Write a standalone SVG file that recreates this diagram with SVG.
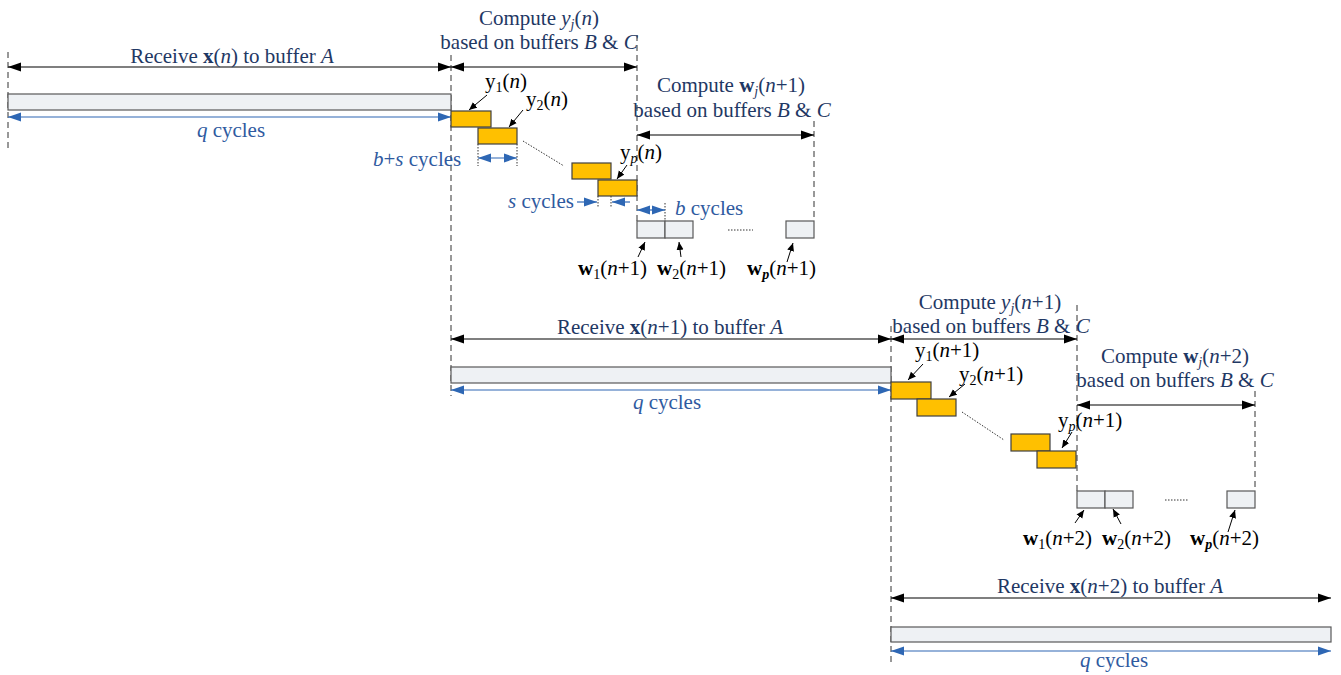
<svg xmlns="http://www.w3.org/2000/svg" width="1341" height="675" viewBox="0 0 1341 675">
<defs>
<marker id="ab" markerUnits="userSpaceOnUse" markerWidth="14" markerHeight="10" refX="13" refY="5" orient="auto-start-reverse"><path d="M0,0.5 L13,5 L0,9.5 Z" fill="#000"/></marker>
<marker id="au" markerUnits="userSpaceOnUse" markerWidth="14" markerHeight="10" refX="13" refY="5" orient="auto-start-reverse"><path d="M0,0.5 L13,5 L0,9.5 Z" fill="#2E67B4"/></marker>
<marker id="as" markerUnits="userSpaceOnUse" markerWidth="9" markerHeight="8" refX="8" refY="4" orient="auto"><path d="M0,0.5 L8,4 L0,7.5 Z" fill="#000"/></marker>
</defs>
<style>
text{font-family:"Liberation Serif","Times New Roman",serif;font-size:21px}
.nv{fill:#1F3864}
.bl{fill:#2F5AA0}
.lb{fill:#000}
.mid{text-anchor:middle}
.bar{fill:#EEF1F4;stroke:#595959;stroke-width:1.2}
.yb{fill:#FFC000;stroke:#404040;stroke-width:1.2}
.wb{fill:#EEF1F4;stroke:#595959;stroke-width:1.2}
.dash{stroke:#333;stroke-width:1;stroke-dasharray:6,4;fill:none}
.dot{stroke:#333;stroke-width:1;stroke-dasharray:1.5,1.5;fill:none}
.ka{stroke:#000;stroke-width:1.2;marker-start:url(#ab);marker-end:url(#ab)}
.ua{stroke:#2E67B4;stroke-width:1.2;marker-start:url(#au);marker-end:url(#au)}
.u1{stroke:#2E67B4;stroke-width:1.2;marker-end:url(#au)}
.sa{stroke:#000;stroke-width:1;marker-end:url(#as)}
</style>

<g id="connectors">
<line class="dash" x1="8" y1="52" x2="8" y2="152"/>
<line class="dash" x1="451" y1="55" x2="451" y2="396"/>
<line class="dash" x1="637" y1="35" x2="637" y2="221"/>
<line class="dash" x1="814" y1="121" x2="814" y2="221"/>
<line class="dash" x1="891" y1="326" x2="891" y2="666"/>
<line class="dash" x1="1077" y1="305" x2="1077" y2="491"/>
<line class="dash" x1="1255" y1="391" x2="1255" y2="491"/>
<line class="dot" x1="478" y1="144" x2="478" y2="166"/>
<line class="dot" x1="517" y1="144" x2="517" y2="166"/>
<line class="dot" x1="598" y1="196" x2="598" y2="208"/>
<line class="dot" x1="611" y1="196" x2="611" y2="208"/>
<line class="dot" x1="665" y1="203" x2="665" y2="221"/>
<line class="dot" x1="523" y1="141" x2="564" y2="166"/>
<line class="dot" x1="962" y1="412" x2="1004" y2="440"/>
<line class="dot" x1="728" y1="230" x2="753" y2="230"/>
<line class="dot" x1="1165" y1="500" x2="1188" y2="500"/>
<line class="ka" x1="8" y1="67" x2="451" y2="67"/>
<line class="ka" x1="451" y1="67" x2="637" y2="67"/>
<line class="ka" x1="637" y1="135" x2="814" y2="135"/>
<line class="ka" x1="451" y1="339" x2="891" y2="339"/>
<line class="ka" x1="891" y1="339" x2="1077" y2="339"/>
<line class="ka" x1="1077" y1="405" x2="1255" y2="405"/>
<line class="ka" x1="891" y1="598" x2="1331" y2="598"/>
<line class="ua" x1="8" y1="117" x2="451" y2="117"/>
<line class="ua" x1="451" y1="390" x2="891" y2="390"/>
<line class="ua" x1="891" y1="651" x2="1331" y2="651"/>
<line class="ua" x1="478" y1="158" x2="517" y2="158"/>
<line class="ua" x1="637" y1="210" x2="665" y2="210"/>
<line class="u1" x1="577" y1="202" x2="597" y2="202"/>
<line class="u1" x1="630" y1="202" x2="612" y2="202"/>
<line class="sa" x1="487" y1="95" x2="469" y2="110"/>
<line class="sa" x1="523" y1="110" x2="509" y2="127"/>
<line class="sa" x1="627" y1="165" x2="617" y2="179"/>
<line class="sa" x1="638" y1="257" x2="645" y2="242"/>
<line class="sa" x1="681" y1="257" x2="679" y2="242"/>
<line class="sa" x1="787" y1="262" x2="793" y2="243"/>
<line class="sa" x1="923" y1="364" x2="908" y2="380"/>
<line class="sa" x1="965" y1="384" x2="949" y2="397"/>
<line class="sa" x1="1072" y1="432" x2="1062" y2="448"/>
<line class="sa" x1="1075" y1="523" x2="1084" y2="510"/>
<line class="sa" x1="1121" y1="524" x2="1113" y2="509"/>
<line class="sa" x1="1228" y1="532" x2="1235" y2="510"/>
</g>

<g id="bars">
<rect class="bar" x="8" y="94" width="443" height="16"/>
<rect class="bar" x="451" y="367" width="440" height="16"/>
<rect class="bar" x="891" y="627" width="440" height="15"/>
</g>

<g id="ybox1">
<rect class="yb" x="451" y="111" width="40" height="16"/>
<rect class="yb" x="478" y="128" width="39" height="16"/>
<rect class="yb" x="572" y="163" width="39" height="16"/>
<rect class="yb" x="598" y="180" width="39" height="16"/>
</g>
<g id="ybox2">
<rect class="yb" x="891" y="382" width="40" height="17"/>
<rect class="yb" x="917" y="399" width="39" height="17"/>
<rect class="yb" x="1011" y="434" width="39" height="17"/>
<rect class="yb" x="1037" y="451" width="39" height="17"/>
</g>
<g id="wbox1">
<rect class="wb" x="637" y="221" width="28" height="17"/>
<rect class="wb" x="665" y="221" width="28" height="17"/>
<rect class="wb" x="786" y="221" width="28" height="17"/>
</g>
<g id="wbox2">
<rect class="wb" x="1077" y="491" width="28" height="17"/>
<rect class="wb" x="1105" y="491" width="28" height="17"/>
<rect class="wb" x="1227" y="491" width="28" height="17"/>
</g>

<g id="labels1">
<text class="nv mid" x="232" y="63">Receive <tspan font-weight="bold">x</tspan>(<tspan font-style="italic">n</tspan>) to buffer <tspan font-style="italic">A</tspan></text>
<text class="bl mid" x="231" y="137"><tspan font-style="italic">q</tspan> cycles</text>
<text class="nv mid" x="539" y="25">Compute <tspan font-style="italic">y</tspan><tspan font-style="italic" font-size="14" dy="4">j</tspan><tspan dy="-4">(</tspan><tspan font-style="italic">n</tspan>)</text>
<text class="nv mid" x="539" y="49">based on buffers <tspan font-style="italic">B</tspan> &amp; <tspan font-style="italic">C</tspan></text>
<text class="nv mid" x="731" y="92">Compute <tspan font-weight="bold">w</tspan><tspan font-style="italic" font-size="14" dy="4">j</tspan><tspan dy="-4">(</tspan><tspan font-style="italic">n</tspan>+1)</text>
<text class="nv mid" x="732" y="117">based on buffers <tspan font-style="italic">B</tspan> &amp; <tspan font-style="italic">C</tspan></text>
<text class="bl" x="373" y="166"><tspan font-style="italic">b</tspan>+<tspan font-style="italic">s</tspan> cycles</text>
<text class="bl" x="508" y="208"><tspan font-style="italic">s</tspan> cycles</text>
<text class="bl" x="675" y="215"><tspan font-style="italic">b</tspan> cycles</text>
<text class="lb" x="485" y="88">y<tspan font-size="14" dy="4">1</tspan><tspan dy="-4">(</tspan><tspan font-style="italic">n</tspan>)</text>
<text class="lb" x="526" y="106">y<tspan font-size="14" dy="4">2</tspan><tspan dy="-4">(</tspan><tspan font-style="italic">n</tspan>)</text>
<text class="lb" x="620" y="159">y<tspan font-size="14" font-style="italic" dy="4">p</tspan><tspan dy="-4">(</tspan><tspan font-style="italic">n</tspan>)</text>
<text class="lb" x="578" y="275"><tspan font-weight="bold">w</tspan><tspan font-size="14" dy="4">1</tspan><tspan dy="-4">(</tspan><tspan font-style="italic">n</tspan>+1)</text>
<text class="lb" x="657" y="275"><tspan font-weight="bold">w</tspan><tspan font-size="14" dy="4">2</tspan><tspan dy="-4">(</tspan><tspan font-style="italic">n</tspan>+1)</text>
<text class="lb" x="747" y="275"><tspan font-weight="bold">w</tspan><tspan font-size="14" font-weight="bold" font-style="italic" dy="4">p</tspan><tspan dy="-4">(</tspan><tspan font-style="italic">n</tspan>+1)</text>
</g>

<g id="labels2">
<text class="nv mid" x="670" y="334">Receive <tspan font-weight="bold">x</tspan>(<tspan font-style="italic">n</tspan>+1) to buffer <tspan font-style="italic">A</tspan></text>
<text class="bl mid" x="667" y="409"><tspan font-style="italic">q</tspan> cycles</text>
<text class="nv mid" x="990" y="309">Compute <tspan font-style="italic">y</tspan><tspan font-style="italic" font-size="14" dy="4">j</tspan><tspan dy="-4">(</tspan><tspan font-style="italic">n</tspan>+1)</text>
<text class="nv mid" x="991" y="333">based on buffers <tspan font-style="italic">B</tspan> &amp; <tspan font-style="italic">C</tspan></text>
<text class="nv mid" x="1175" y="363">Compute <tspan font-weight="bold">w</tspan><tspan font-style="italic" font-size="14" dy="4">j</tspan><tspan dy="-4">(</tspan><tspan font-style="italic">n</tspan>+2)</text>
<text class="nv mid" x="1175" y="387">based on buffers <tspan font-style="italic">B</tspan> &amp; <tspan font-style="italic">C</tspan></text>
<text class="lb" x="915" y="357">y<tspan font-size="14" dy="4">1</tspan><tspan dy="-4">(</tspan><tspan font-style="italic">n</tspan>+1)</text>
<text class="lb" x="959" y="381">y<tspan font-size="14" dy="4">2</tspan><tspan dy="-4">(</tspan><tspan font-style="italic">n</tspan>+1)</text>
<text class="lb" x="1058" y="427">y<tspan font-size="14" font-style="italic" dy="4">p</tspan><tspan dy="-4">(</tspan><tspan font-style="italic">n</tspan>+1)</text>
<text class="lb" x="1023" y="545"><tspan font-weight="bold">w</tspan><tspan font-size="14" dy="4">1</tspan><tspan dy="-4">(</tspan><tspan font-style="italic">n</tspan>+2)</text>
<text class="lb" x="1102" y="545"><tspan font-weight="bold">w</tspan><tspan font-size="14" dy="4">2</tspan><tspan dy="-4">(</tspan><tspan font-style="italic">n</tspan>+2)</text>
<text class="lb" x="1190" y="545"><tspan font-weight="bold">w</tspan><tspan font-size="14" font-weight="bold" font-style="italic" dy="4">p</tspan><tspan dy="-4">(</tspan><tspan font-style="italic">n</tspan>+2)</text>
</g>

<g id="labels3">
<text class="nv mid" x="1110" y="593">Receive <tspan font-weight="bold">x</tspan>(<tspan font-style="italic">n</tspan>+2) to buffer <tspan font-style="italic">A</tspan></text>
<text class="bl mid" x="1114" y="667"><tspan font-style="italic">q</tspan> cycles</text>
</g>
</svg>
